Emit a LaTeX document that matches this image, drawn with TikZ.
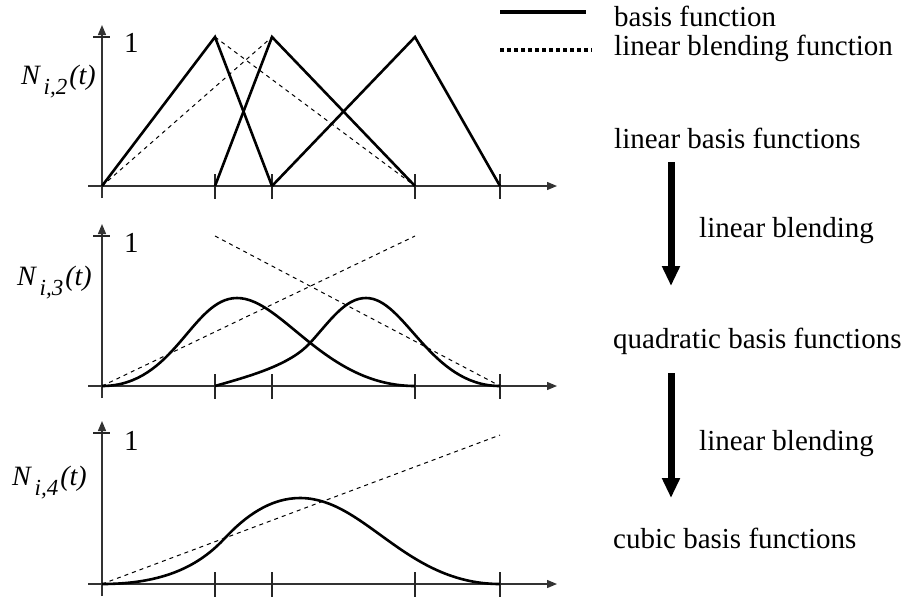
\documentclass[tikz,border=0pt]{standalone}
\usepackage{fontspec}
\setmainfont{Liberation Serif}
\usetikzlibrary{arrows.meta}
\tikzset{
  axisline/.style={line width=1.3pt, color=black!80},
  axisarrow/.style={axisline, -{Triangle[width=8pt,length=10pt]}},
  tickline/.style={line width=1.2pt, color=black!85},
  basisline/.style={line width=2.6pt, line join=miter},
  blendline/.style={line width=1pt, dash pattern=on 4pt off 4pt},
  bigarrow/.style={line width=7pt, -{Triangle[width=17pt,length=20pt]}},
  lbl/.style={inner sep=0pt, anchor=base west, font=\fontsize{29}{34}\selectfont},
  ylbl/.style={inner sep=0pt, anchor=base west, font=\fontsize{28}{32}\selectfont\itshape},
}
\newcommand{\Nlab}[1]{N\raisebox{-10pt}{\fontsize{23}{26}\selectfont\,#1}\kern2pt(t)}
\begin{document}
\begin{tikzpicture}[x=1pt,y=-1pt]
\useasboundingbox (0,0) rectangle (904,598);
% ---------- three panels
\foreach \b/\t/\k in {186/37/a, 386/236/b, 584/433/c}{
  \coordinate (yb\k) at (102,\b+12);
  \coordinate (yt\k) at (102,\t-12);
  \coordinate (xl\k) at (88,\b);
  \coordinate (xr\k) at (557,\b);
  \draw[axisarrow] (yb\k) -- (yt\k);
  \draw[axisarrow] (xl\k) -- (xr\k);
  \draw[tickline] (93,\t) -- (110,\t);
  \foreach \x in {215,272,415,500}{
    \draw[tickline] (\x,\b-12) -- (\x,\b+13);
  }
}
% ---------- labels on the y axes
\node[lbl] (one1) at (124,52) {1};
\node[lbl] (one2) at (124,252) {1};
\node[lbl] (one3) at (124,450) {1};
\node[ylbl] (lab1) at (21,84) {\Nlab{i,2}};
\node[ylbl] (lab2) at (17,285) {\Nlab{i,3}};
\node[ylbl] (lab3) at (12,485) {\Nlab{i,4}};
% ---------- panel 1: linear basis functions
\draw[basisline] (102,186) -- (215,37) -- (272,186);
\draw[basisline] (215,186) -- (272,37) -- (415,186);
\draw[basisline] (272,186) -- (415,37) -- (500,186);
\draw[blendline] (102,186) -- (272,37);
\draw[blendline] (215,37) -- (415,186);
% ---------- panel 2: quadratic basis functions
\draw[blendline] (102,386) -- (415,236);
\draw[blendline] (215,236) -- (500,386);
\draw[basisline] (102,386) .. controls (175,386) and (192,298) .. (237,298)
                 .. controls (282,298) and (325,386) .. (415,386);
\draw[basisline] (215,386) .. controls (250,376) and (290,365) .. (310,343)
                 .. controls (330,321) and (345,298) .. (366,298)
                 .. controls (405,298) and (430,386) .. (500,386);
% ---------- panel 3: cubic basis function
\draw[blendline] (102,584) -- (500,435);
\draw[basisline] (102,584) .. controls (165,584) and (200,565) .. (225,538)
                 .. controls (245,516.6) and (270,498) .. (300,498)
                 .. controls (365,498) and (405,584) .. (500,584);
% ---------- legend
\coordinate (lsa) at (500,12);
\coordinate (lsb) at (586,12);
\coordinate (lda) at (500,50);
\coordinate (ldb) at (592,50);
\draw[line width=3.5pt] (lsa) -- (lsb);
\draw[line width=3.5pt, dash pattern=on 4pt off 3pt] (lda) -- (ldb);
\node[lbl] (leg1) at (614,26) {basis function};
\node[lbl] (leg2) at (614,55) {linear blending function};
% ---------- right column
\node[lbl] (lin) at (614,148) {linear basis functions};
\node[lbl] (quad) at (613,348) {quadratic basis functions};
\node[lbl] (cub) at (613,548) {cubic basis functions};
\node[lbl] (blend1) at (699,237) {linear blending};
\node[lbl] (blend2) at (699,450) {linear blending};
\coordinate (a1s) at (671,162);
\coordinate (a1e) at (671,286);
\coordinate (a2s) at (671,373);
\coordinate (a2e) at (671,498);
\draw[bigarrow] (a1s) -- (a1e);
\draw[bigarrow] (a2s) -- (a2e);
\end{tikzpicture}
\end{document}
